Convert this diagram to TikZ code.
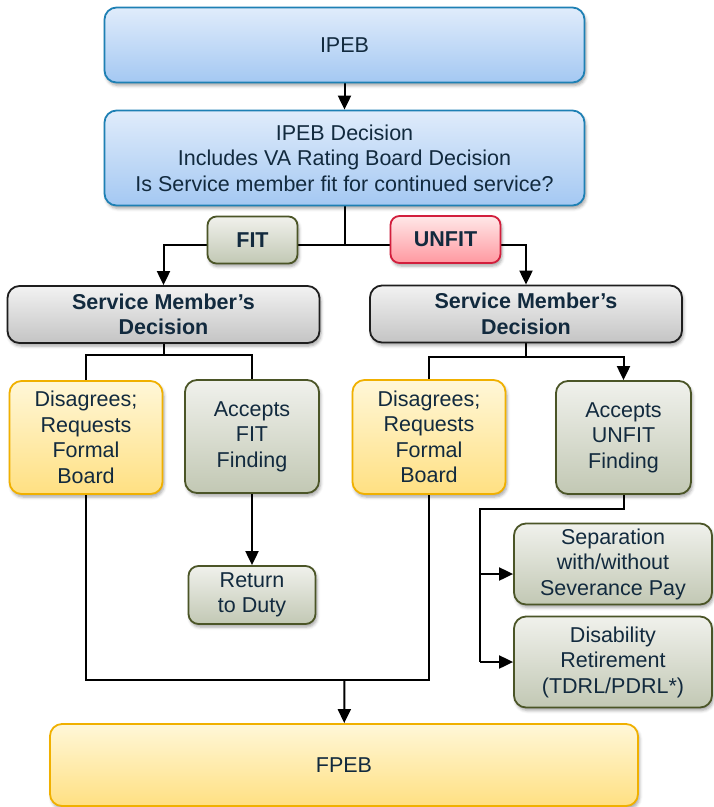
\documentclass[tikz,border=0pt]{standalone}
\usepackage{fontspec}
\setmainfont{Liberation Sans}
\usetikzlibrary{arrows.meta,shadows.blur,calc}

\definecolor{txt}{RGB}{18,42,62}
\definecolor{blueT}{RGB}{224,236,251}
\definecolor{blueL}{RGB}{164,200,242}
\definecolor{blueD}{RGB}{30,128,180}
\definecolor{grayT}{RGB}{242,242,242}
\definecolor{grayL}{RGB}{196,196,196}
\definecolor{grayD}{RGB}{30,30,30}
\definecolor{redT}{RGB}{255,232,232}
\definecolor{redL}{RGB}{255,152,160}
\definecolor{redD}{RGB}{210,30,60}
\definecolor{yelT}{RGB}{255,247,216}
\definecolor{yelL}{RGB}{255,224,130}
\definecolor{yelD}{RGB}{240,176,0}
\definecolor{oliT}{RGB}{240,241,236}
\definecolor{oliL}{RGB}{194,200,180}
\definecolor{oliD}{RGB}{75,85,39}

\pgfdeclarelayer{bg}
\pgfsetlayers{bg,main}

\tikzset{
  box/.style={rounded corners=12pt, line width=1.8pt, inner sep=0pt, align=center,
    text=txt, font=\fontsize{21.5}{25.5}\selectfont,
    blur shadow={shadow xshift=1.5pt, shadow yshift=-3pt, shadow blur radius=3pt, shadow opacity=35}},
  bluebox/.style={box, draw=blueD, top color=blueT, bottom color=blueL},
  graybox/.style={box, draw=grayD, top color=grayT, bottom color=grayL, font=\fontsize{21.5}{25.5}\selectfont\bfseries},
  redbox/.style={box, draw=redD, top color=redT, bottom color=redL, font=\fontsize{21.5}{25.5}\selectfont\bfseries},
  oliveflag/.style={box, draw=oliD, top color=oliT, bottom color=oliL, font=\fontsize{21.5}{25.5}\selectfont\bfseries},
  yelbox/.style={box, draw=yelD, top color=yelT, bottom color=yelL},
  olibox/.style={box, draw=oliD, top color=oliT, bottom color=oliL},
  link/.style={line width=2pt, black},
  arr/.style={link, -{Triangle[length=14pt,width=13pt]}},
}

\begin{document}
\begin{tikzpicture}[x=1pt,y=-1pt]
\useasboundingbox (0,0) rectangle (714,807);

% process boxes
\node[bluebox, minimum width=480, minimum height=75] (ipeb) at (344.5,45) {IPEB};
\node[bluebox, minimum width=480, minimum height=95] (dec) at (344.5,158)
  {IPEB Decision\\Includes VA Rating Board Decision\\Is Service member fit for continued service?};
\node[oliveflag, minimum width=90, minimum height=47, rounded corners=9pt] (fit) at (252.5,240) {FIT};
\node[redbox, minimum width=110, minimum height=47, rounded corners=9pt] (unfit) at (445.5,239.5) {UNFIT};

\node[graybox, minimum width=312, minimum height=57] (smdL) at (163.5,314.5) {Service Member’s\\Decision};
\node[graybox, minimum width=312, minimum height=57] (smdR) at (526,314) {Service Member’s\\Decision};

\node[yelbox, minimum width=153, minimum height=113] (disL) at (86,437.5) {Disagrees;\\Requests\\Formal\\Board};
\node[olibox, minimum width=134, minimum height=113] (accFit) at (252,436.5) {Accepts\\FIT\\Finding};
\node[yelbox, minimum width=153, minimum height=114] (disR) at (429,437) {Disagrees;\\Requests\\Formal\\Board};
\node[olibox, minimum width=135, minimum height=113] (accUnfit) at (623.5,437.5) {Accepts\\UNFIT\\Finding};

\node[olibox, minimum width=127, minimum height=58, rounded corners=10pt] (rtd) at (252,595) {Return\\to Duty};
\node[olibox, minimum width=198, minimum height=81] (sep) at (613,564) {Separation\\with/without\\Severance Pay};
\node[olibox, minimum width=198, minimum height=91] (dis) at (613,662) {Disability\\Retirement\\(TDRL/PDRL*)};

\node[yelbox, minimum width=588, minimum height=82] (fpeb) at (344,765) {FPEB};

% junction points
\coordinate (split) at (344.5,245);
\coordinate (jL) at (163.5,355);
\coordinate (jR) at (526,357);
\coordinate (busU) at (480,509);
\coordinate (merge) at (344.5,680);
\coordinate (sepIn) at ([yshift=-10pt]sep.west);

\begin{pgfonlayer}{bg}
\draw[arr] (ipeb) -- (dec);
\draw[link] (dec.south) -- (split);
\draw[arr] (split) -| (smdL);
\draw[arr] (split) -| (smdR);

\draw[link] (smdL.south) -- (jL) -| (disL.north);
\draw[link] (jL) -| (accFit.north);
\draw[link] (smdR.south) -- (jR) -| (disR.north);
\draw[arr] (jR) -| (accUnfit.north);

\draw[arr] (accFit) -- (rtd);

\draw[link] (accUnfit.south) |- (busU) -- (busU |- dis.west);
\draw[arr] (busU |- sepIn) -- (sepIn);
\draw[arr] (busU |- dis.west) -- (dis.west);

\draw[link] (disL.south) |- (merge);
\draw[link] (disR.south) |- (merge);
\draw[arr] (merge) -- (fpeb);
\end{pgfonlayer}
\end{tikzpicture}
\end{document}
